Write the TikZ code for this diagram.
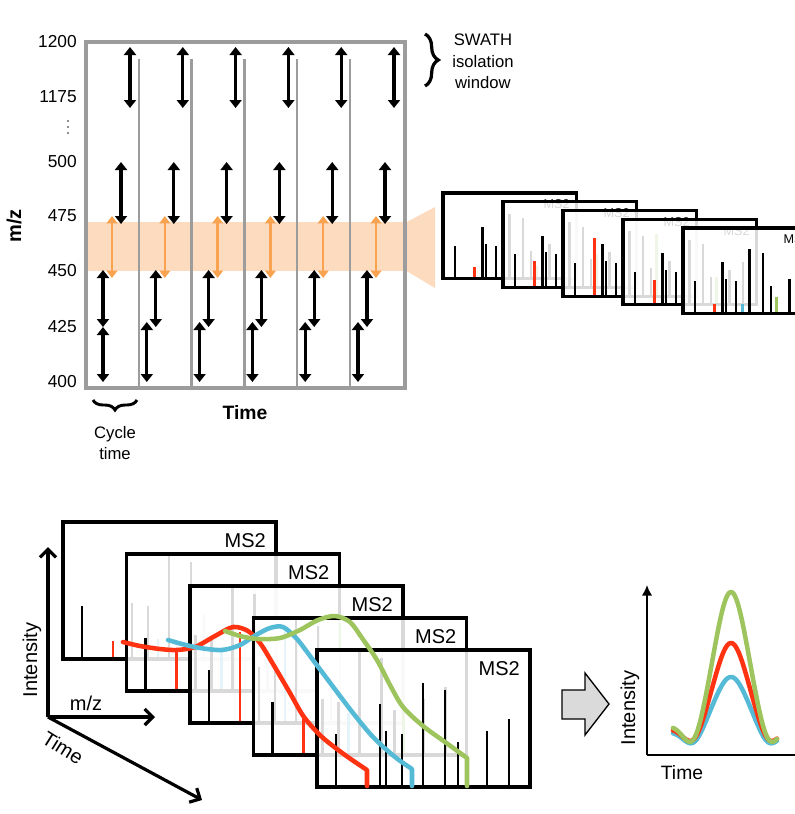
\documentclass[tikz,border=0pt]{standalone}
\usepackage{fontspec}
\setmainfont{Liberation Sans}
\usetikzlibrary{arrows.meta,decorations.pathreplacing}
\definecolor{gridgray}{HTML}{9C9C9C}
\definecolor{bandor}{HTML}{FCDBBF}
\definecolor{arrowor}{HTML}{F9A24F}
\definecolor{pkred}{HTML}{FF3312}
\definecolor{pkblue}{HTML}{55BAD6}
\definecolor{pkgreen}{HTML}{9EC45E}
\definecolor{arrgray}{HTML}{DADADA}
\tikzset{
 dbl/.style={line width=2.5pt, {Triangle[width=9pt,length=6pt]}-{Triangle[width=9pt,length=6pt]}},
 dblor/.style={arrowor, line width=1.9pt, {Triangle[width=8pt,length=5.5pt]}-{Triangle[width=8pt,length=5.5pt]}},
 sepline/.style={gridgray, line width=1.7pt},
 specbar/.style={line width=2pt},
 specframe/.style={line width=2.4pt},
 axisline/.style={line width=2.4pt, -{Straight Barb[length=6pt,width=12pt]}},
 peak/.style={line width=3.4pt, line cap=round, line join=round},
 lbl/.style={inner sep=0pt},
}
\newcommand{\spectrum}[8]{%
 \begin{scope}[shift={({#1},{#2})}, scale=#3]
  \fill[white, fill opacity=0.85] (0,0) rectangle (213,137);
  \foreach \bx/\bh in {19/53,63/83,69/56,85/53,106/104,128/97,141/45,170/56,192/68}
    {\draw[specbar] (\bx,137) -- (\bx,{137-\bh});}
  \draw[specbar,pkred] (50,137) -- (50,{137-#4});
  \draw[specbar,pkblue] (95,137) -- (95,{137-#5});
  \draw[specbar,pkgreen] (150,137) -- (150,{137-#6});
  \draw[specframe] (0,0) rectangle (213,137);
  \node[lbl, anchor=east, font=#7] (#8) at (203,18.5) {MS2};
 \end{scope}}
\begin{document}
\begin{tikzpicture}[x=0.75pt,y=-0.75pt]
\useasboundingbox (0,0) rectangle (795,814);
\clip (0,0) rectangle (795,814);
% ---------- top: SWATH scheme ----------
\fill[bandor] (86,222) rectangle (405,271);
\fill[bandor] (405,223) -- (435,207) -- (435,288) -- (405,270) -- cycle;
\draw[gridgray, line width=2.4pt] (86,42) rectangle (405,388);
\foreach \c in {1,...,5} {\draw[sepline] ({86+52.8*\c},59) -- ({86+52.8*\c},388);}
\foreach \c in {0,...,5} {
  \pgfmathsetmacro\xo{86+52.8*\c}
  \draw[dbl] ({\xo+17},270) -- ({\xo+17},327);
  \draw[dblor] ({\xo+26},216) -- ({\xo+26},278);
  \draw[dbl] ({\xo+35},162) -- ({\xo+35},224);
  \draw[dbl] ({\xo+44},47) -- ({\xo+44},108);
}
\draw[dbl] (103,327) -- (103,382);
\foreach \c in {1,...,5} {\pgfmathsetmacro\xo{86+52.8*\c}\draw[dbl] ({\xo+8},322) -- ({\xo+8},382);}
\foreach \v/\y in {1200/42,1175/97,500/162,475/216,450/271,425/327,400/382}
  {\node[lbl, anchor=east, font=\fontsize{13}{15}\selectfont] (tick\v) at (77,\y) {\v};}
\foreach \y in {121,127,133} {\fill[black!60] (68,\y) circle (0.8pt);}
\node[font=\bfseries\fontsize{15}{18}\selectfont, rotate=90] (mzlab) at (14,226) {m/z};
\node[font=\bfseries\fontsize{14.5}{17}\selectfont] (timelab) at (245,413) {Time};
\draw[decorate,decoration={brace,amplitude=7.5pt}, line width=2.2pt] (137,400) -- (93,400);
\node[anchor=base, font=\fontsize{12.5}{15}\selectfont] (cyc1) at (115,438) {Cycle};
\node[anchor=base, font=\fontsize{12.5}{15}\selectfont] (cyc2) at (115,459) {time};
\draw[decorate,decoration={brace,amplitude=10pt}, line width=2.4pt] (425,34) -- (425,86);
\node[anchor=base, font=\fontsize{12.5}{15}\selectfont] (sw1) at (483,45) {SWATH};
\node[anchor=base, font=\fontsize{12.5}{15}\selectfont] (sw2) at (483,67) {isolation};
\node[anchor=base, font=\fontsize{12.5}{15}\selectfont] (sw3) at (483,88) {window};
% mini spectra
\foreach \i/\r/\b/\g in {0/18/20/20, 1/43/44/54, 2/93/93/100, 3/40/42/45, 4/16/16/27}
  {\spectrum{443+60*\i}{193+8.75*\i}{0.625}{\r}{\b}{\g}{\fontsize{9.5}{11}\selectfont}{ms\i}}
% ---------- bottom: extracted ion chromatograms ----------
\foreach \i/\r/\b/\g in {0/18/20/20, 1/41/44/54, 2/91/93/100, 3/37/42/45, 4/17/17/28}
  {\spectrum{63+63.5*\i}{522+32*\i}{1}{\r}{\b}{\g}{\fontsize{15}{18}\selectfont}{bs\i}}
\draw[peak, pkred] plot[smooth] coordinates {(123,642) (140,646) (160,649) (177,650) (195,647) (215,636) (233,627) (248,631) (260,643) (273,664) (290,693) (304,717) (322,737) (345,755) (367,770)} -- (367,786);
\draw[peak, pkblue] plot[smooth] coordinates {(168,640) (182,644) (200,648) (222,650) (240,645) (256,635) (270,628) (283,627) (297,639) (313,660) (331,684) (353,713) (373,737) (395,757) (412,769)} -- (412,786);
\draw[peak, pkgreen] plot[smooth] coordinates {(225,631) (240,636) (258,639) (280,638) (300,630) (318,620) (335,616) (350,622) (362,638) (377,660) (390,685) (403,707) (423,726) (445,742) (467,758)} -- (467,786);
\coordinate (O) at (48,717);
\coordinate (Itop) at (48,547);
\coordinate (MZend) at (155,717);
\coordinate (Tend) at (202,800);
\draw[axisline] (O) -- (Itop);
\draw[axisline] (O) -- (MZend);
\draw[axisline] (O) -- (Tend);
\node[font=\fontsize{15}{18}\selectfont, rotate=90] (intlab) at (32,660) {Intensity};
\node[font=\fontsize{15}{18}\selectfont] (mzlab2) at (86,703) {m/z};
\node[font=\fontsize{15}{18}\selectfont, rotate=-32, inner sep=0pt] (timelab2) at (63,748) {Time};
% block arrow
\draw[fill=arrgray, line width=1pt, line join=miter] (562,690) -- (585,690) -- (585,673) -- (609,704) -- (585,735) -- (585,719) -- (562,719) -- cycle;
% chromatogram
\coordinate (C0) at (647,755);
\coordinate (Ctop) at (647,585);
\coordinate (Cend) at (800,755);
\draw[line width=1.7pt, -{Latex[length=8pt,width=8pt]}] (C0) -- (Ctop);
\draw[line width=1.7pt] (C0) -- (Cend);
\draw[peak, pkblue] plot[domain=673:777, samples=90] (\x, {732 + 14*exp(-((abs(\x-731)-38)/13)*((abs(\x-731)-38)/13)) - 55*exp(-((\x-731)/16)*((\x-731)/16)/2)});
\draw[peak, pkred] plot[domain=673:777, samples=90] (\x, {729 + 16*exp(-((abs(\x-731)-38)/13)*((abs(\x-731)-38)/13)) - 86*exp(-((\x-731)/16)*((\x-731)/16)/2)});
\draw[peak, pkgreen] plot[domain=673:777, samples=90] (\x, {726 + 22*exp(-((abs(\x-731)-38)/13)*((abs(\x-731)-38)/13)) - 134*exp(-((\x-731)/16)*((\x-731)/16)/2)});
\node[font=\fontsize{15}{18}\selectfont, rotate=90] (intlab2) at (630,708) {Intensity};
\node[font=\fontsize{14.5}{17}\selectfont] (timelab3) at (682,773) {Time};
\end{tikzpicture}
\end{document}
